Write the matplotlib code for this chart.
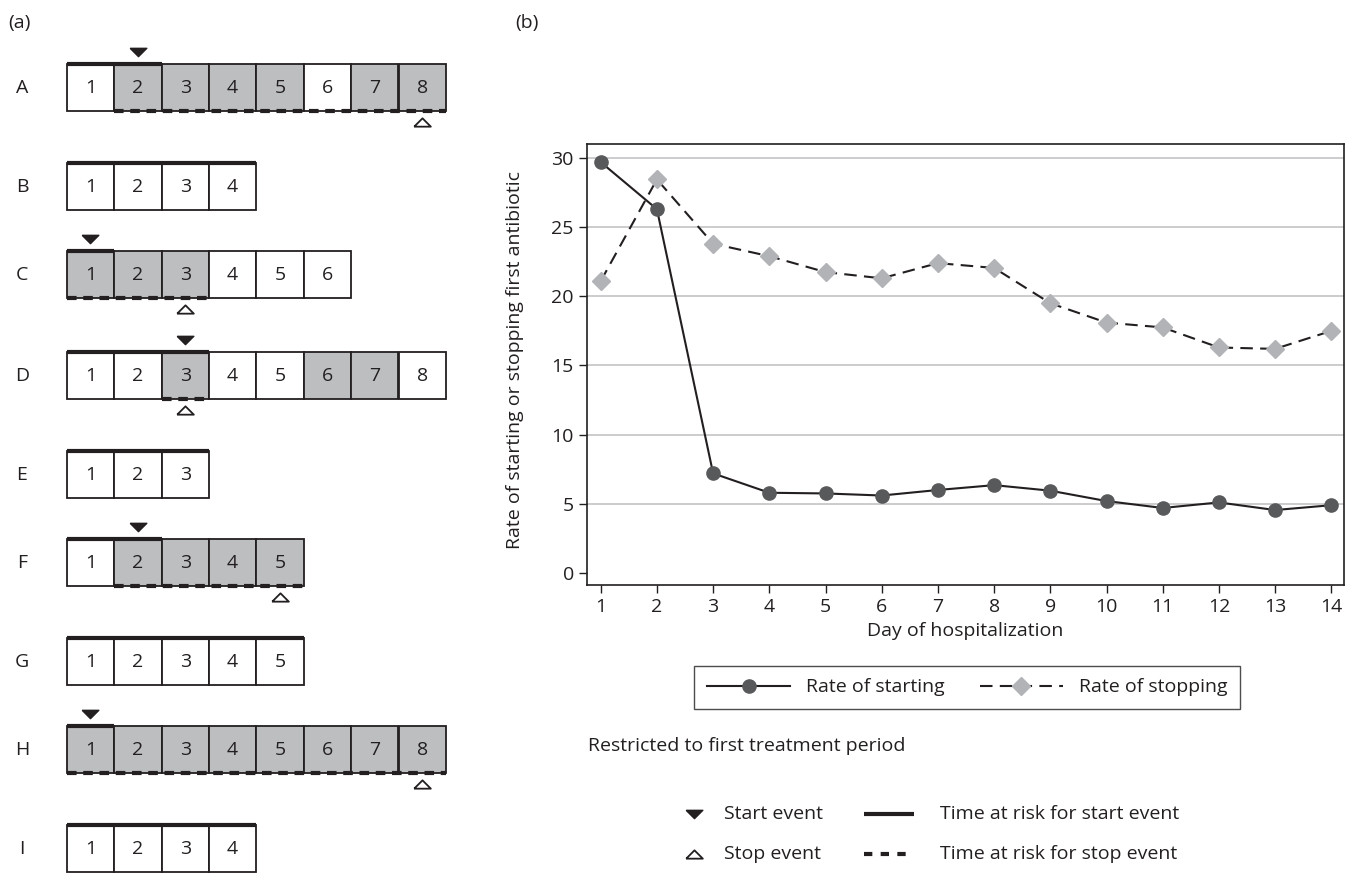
import matplotlib.pyplot as plt
from matplotlib.patches import Rectangle

plt.rcParams['font.family'] = ['Open Sans', 'DejaVu Sans']

# Panel (a): pacientes de ejemplo
pacientes = ["A", "B", "C", "D", "E", "F", "G", "H", "I"]
n_dias = [8, 4, 6, 8, 3, 5, 5, 8, 4]
dias_con_antibiotico = [[2, 3, 4, 5, 7, 8], [], [1, 2, 3], [3, 6, 7], [],
                        [2, 3, 4, 5], [], [1, 2, 3, 4, 5, 6, 7, 8], []]
dia_inicio = [2, None, 1, 3, None, 2, None, 1, None]
dia_fin = [8, None, 3, 3, None, 5, None, 8, None]

# Panel (b): tasas por dia de hospitalizacion
dias = list(range(1, 15))
tasa_inicio = [29.7, 26.3, 7.2, 5.8, 5.75, 5.6, 6.0, 6.35, 5.95, 5.2, 4.7, 5.1, 4.55, 4.9]
tasa_fin = [21.1, 28.45, 23.8, 22.9, 21.75, 21.3, 22.4, 22.05, 19.5, 18.1, 17.75, 16.3, 16.2, 17.5]

# estilo
oscuro = "#231f20"
gris_caja = "#bcbec0"
gris_circulo = "#58595b"
gris_rombo = "#b1b3b6"
fs = 14
tri_abajo = [(-1, 0.5), (1, 0.5), (0, -0.5), (-1, 0.5)]
tri_arriba = [(-1, -0.5), (1, -0.5), (0, 0.5), (-1, -0.5)]

W, H = 1355, 875
fig = plt.figure(figsize=(W / 100, H / 100), dpi=100)
lienzo = fig.add_axes([0, 0, 1, 1])
lienzo.set_xlim(0, W)
lienzo.set_ylim(H, 0)
lienzo.axis("off")

# ---- panel (a) ----
lado = 47.4
x0 = 66.7
arriba = [64.0]
for i in range(1, len(pacientes)):
    gap = 86 + 13 * (dia_fin[i - 1] is not None) + 2 * (dia_inicio[i] is not None)
    arriba.append(arriba[-1] + gap)

for i, p in enumerate(pacientes):
    y = arriba[i]
    lienzo.text(22, y + lado / 2, p, ha="center", va="center", fontsize=fs, color=oscuro)
    for d in range(1, n_dias[i] + 1):
        color = gris_caja if d in dias_con_antibiotico[i] else "white"
        lienzo.add_patch(Rectangle((x0 + (d - 1) * lado, y), lado, lado,
                                   facecolor=color, edgecolor=oscuro, lw=1.3))
        lienzo.text(x0 + (d - 0.5) * lado, y + lado / 2, str(d), ha="center",
                    va="center", fontsize=fs, color=oscuro)
    # tiempo en riesgo de inicio
    fin_riesgo = dia_inicio[i] if dia_inicio[i] is not None else n_dias[i]
    lienzo.plot([x0, x0 + fin_riesgo * lado], [y, y], color=oscuro, lw=3,
                solid_capstyle="butt")
    if dia_inicio[i] is not None:
        lienzo.plot(x0 + (dia_inicio[i] - 0.5) * lado, y - 12, marker=tri_abajo,
                    ms=12, color=oscuro, ls="none")
        lienzo.plot([x0 + (dia_inicio[i] - 1) * lado, x0 + dia_fin[i] * lado],
                    [y + lado, y + lado], color=oscuro, lw=3, dashes=(2.3, 1.6))
        lienzo.plot(x0 + (dia_fin[i] - 0.5) * lado, y + lado + 11, marker=tri_arriba,
                    ms=12, mfc="white", mec=oscuro, mew=1.3, ls="none")

lienzo.text(8, 23, "(a)", ha="left", va="center", fontsize=fs, color=oscuro)
lienzo.text(515, 23, "(b)", ha="left", va="center", fontsize=fs, color=oscuro)

# ---- panel (b) ----
ax = fig.add_axes([587 / W, 1 - 585 / H, (1344 - 587) / W, (585 - 144) / H])
ax.plot(dias, tasa_inicio, color=oscuro, lw=1.5, marker="o", ms=9.5,
        mfc=gris_circulo, mec=gris_circulo, label="Rate of starting")
ax.plot(dias, tasa_fin, color=oscuro, lw=1.5, dashes=(6, 3.5), marker="D", ms=9.5,
        mfc=gris_rombo, mec=gris_rombo, label="Rate of stopping")
ax.set_xlim(0.756, 14.226)
ax.set_ylim(-0.868, 31.01)
ax.set_xticks(dias)
ax.set_yticks(range(0, 31, 5))
ax.yaxis.grid(True, color="#c4c4c6", lw=1.2)
ax.get_ygridlines()[0].set_visible(False)
ax.set_axisbelow(True)
for s in ax.spines.values():
    s.set_color(oscuro)
    s.set_linewidth(1.2)
ax.tick_params(direction="out", length=6, width=1, color=oscuro, labelsize=fs,
               labelcolor=oscuro)
ax.set_xlabel("Day of hospitalization", fontsize=fs, color=oscuro, labelpad=4)
ax.set_ylabel("Rate of starting or stopping first antibiotic", fontsize=fs,
              color=oscuro)
ax.yaxis.set_label_coords(-0.083, 0.51)

leg = ax.legend(loc="center", bbox_to_anchor=(967 / W, 1 - 687.5 / H),
                bbox_transform=fig.transFigure, ncol=2, fancybox=False,
                edgecolor=oscuro, handlelength=4.3, columnspacing=1.8,
                borderpad=0.65, fontsize=fs)
leg.get_frame().set_linewidth(1.0)
for t in leg.get_texts():
    t.set_color(oscuro)

lienzo.text(588, 746, "Restricted to first treatment period", ha="left",
            va="center", fontsize=fs, color=oscuro)

# leyenda de eventos
lienzo.plot(694, 814, marker=tri_abajo, ms=12, color=oscuro, ls="none")
lienzo.plot(694, 854, marker=tri_arriba, ms=12, mfc="white", mec=oscuro,
            mew=1.3, ls="none")
lienzo.text(724, 814, "Start event", ha="left", va="center", fontsize=fs, color=oscuro)
lienzo.text(724, 854, "Stop event", ha="left", va="center", fontsize=fs, color=oscuro)
lienzo.plot([864, 914], [814, 814], color=oscuro, lw=3, solid_capstyle="butt")
lienzo.plot([864, 914], [854, 854], color=oscuro, lw=3, dashes=(2, 2))
lienzo.text(940, 814, "Time at risk for start event", ha="left", va="center",
            fontsize=fs, color=oscuro)
lienzo.text(940, 854, "Time at risk for stop event", ha="left", va="center",
            fontsize=fs, color=oscuro)

fig.savefig("out.png", dpi=100)
